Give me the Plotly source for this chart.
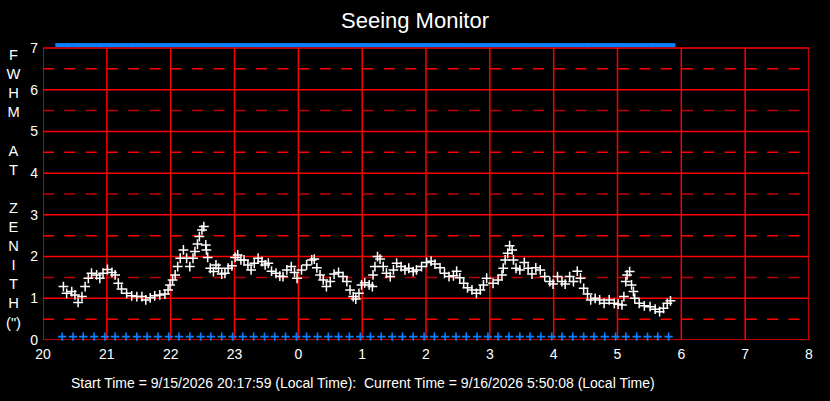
import plotly.graph_objects as go

# seeing samples: decimal hours (past midnight continues as 24+), FWHM in arcsec
hours = [
    20.32, 20.37, 20.45, 20.50, 20.55, 20.61, 20.66, 20.71, 20.76, 20.84, 20.89, 20.94,
    21.01, 21.08, 21.13, 21.18, 21.23, 21.31, 21.39, 21.47, 21.55, 21.61, 21.68, 21.75,
    21.83, 21.91, 21.96, 21.99, 22.03, 22.07, 22.11, 22.15, 22.20, 22.25, 22.30, 22.35,
    22.38, 22.42, 22.45, 22.49, 22.52, 22.55, 22.56, 22.58, 22.62, 22.67, 22.71, 22.75,
    22.80, 22.85, 22.90, 22.96, 23.01, 23.05, 23.10, 23.15, 23.21, 23.26, 23.31, 23.37,
    23.43, 23.48, 23.53, 23.58, 23.65, 23.71, 23.76, 23.82, 23.89, 23.94, 23.98, 24.05,
    24.13, 24.21, 24.25, 24.29, 24.34, 24.39, 24.44, 24.50, 24.56, 24.63, 24.70, 24.76,
    24.81, 24.86, 24.90, 24.95, 24.99, 25.04, 25.11, 25.16, 25.17, 25.20, 25.24, 25.28,
    25.33, 25.38, 25.44, 25.49, 25.54, 25.61, 25.67, 25.73, 25.80, 25.85, 25.93, 26.01,
    26.08, 26.14, 26.22, 26.29, 26.36, 26.43, 26.48, 26.53, 26.59, 26.65, 26.72, 26.79,
    26.85, 26.90, 26.95, 27.05, 27.13, 27.19, 27.21, 27.24, 27.28, 27.31, 27.35, 27.37,
    27.41, 27.47, 27.54, 27.60, 27.66, 27.72, 27.79, 27.86, 27.94, 27.99, 28.06, 28.13,
    28.18, 28.25, 28.31, 28.37, 28.42, 28.47, 28.53, 28.58, 28.65, 28.72, 28.79, 28.87,
    28.95, 29.01, 29.07, 29.10, 29.13, 29.15, 29.19, 29.22, 29.25, 29.27, 29.34, 29.42,
    29.51, 29.59, 29.66, 29.72, 29.78, 29.83,
]
fwhm = [
    1.28, 1.12, 1.16, 1.08, 0.90, 1.04, 1.28, 1.48, 1.60, 1.56, 1.48, 1.60,
    1.69, 1.62, 1.56, 1.36, 1.22, 1.12, 1.06, 1.04, 1.04, 0.96, 1.01, 1.06,
    1.08, 1.10, 1.20, 1.32, 1.44, 1.56, 1.76, 1.96, 2.16, 1.96, 1.76, 1.96,
    2.12, 2.30, 2.48, 2.64, 2.72, 2.28, 2.16, 1.98, 1.72, 1.64, 1.80, 1.72,
    1.58, 1.60, 1.72, 1.78, 1.98, 2.04, 1.92, 1.92, 1.80, 1.68, 1.84, 1.96,
    1.88, 1.80, 1.84, 1.65, 1.60, 1.53, 1.52, 1.68, 1.76, 1.62, 1.48, 1.68,
    1.80, 1.92, 1.94, 1.73, 1.56, 1.44, 1.28, 1.40, 1.58, 1.62, 1.52, 1.40,
    1.20, 1.04, 0.98, 1.12, 1.32, 1.37, 1.32, 1.28, 1.56, 1.76, 2.00, 1.94,
    1.76, 1.60, 1.52, 1.68, 1.84, 1.76, 1.68, 1.72, 1.64, 1.68, 1.76, 1.86,
    1.89, 1.82, 1.73, 1.60, 1.52, 1.54, 1.65, 1.49, 1.36, 1.25, 1.20, 1.12,
    1.20, 1.32, 1.48, 1.36, 1.44, 1.56, 1.72, 1.92, 2.08, 2.26, 2.16, 1.92,
    1.72, 1.68, 1.86, 1.72, 1.58, 1.73, 1.68, 1.52, 1.40, 1.34, 1.52, 1.40,
    1.34, 1.52, 1.40, 1.65, 1.48, 1.24, 1.10, 0.96, 1.00, 0.96, 0.88, 0.96,
    0.88, 0.86, 0.84, 1.04, 1.40, 1.56, 1.64, 1.32, 1.16, 1.00, 0.88, 0.82,
    0.80, 0.74, 0.68, 0.76, 0.88, 0.94,
]

# 10-minute status marks (blue), drawn at the bottom and just above the top of the grid
status_hours = [
    20.30, 20.47, 20.63, 20.80, 20.97, 21.13, 21.30, 21.47, 21.63, 21.80, 21.97, 22.13,
    22.30, 22.47, 22.63, 22.80, 22.97, 23.13, 23.30, 23.47, 23.63, 23.80, 23.97, 24.13,
    24.30, 24.47, 24.63, 24.80, 24.97, 25.13, 25.30, 25.47, 25.63, 25.80, 25.97, 26.13,
    26.30, 26.47, 26.63, 26.80, 26.97, 27.13, 27.30, 27.47, 27.63, 27.80, 27.97, 28.13,
    28.30, 28.47, 28.63, 28.80, 28.97, 29.13, 29.30, 29.47, 29.63, 29.80,
]
status_low = 0.08
status_high = 7.07

tick_hours = list(range(20, 33))
tick_labels = ["20", "21", "22", "23", "0", "1", "2", "3", "4", "5", "6", "7", "8"]
levels = [0, 1, 2, 3, 4, 5, 6, 7]

half_levels = [0.5, 1.5, 2.5, 3.5, 4.5, 5.5, 6.5]
half_colors = ["#ff0000", "#c00000", "#ff0000", "#c00000", "#ff0000", "#c00000", "#ff0000"]

ylabel = ["F", "W", "H", "M", "", "A", "T", "", "Z", "E", "N", "I", "T", "H", "(\")"]
footer = ("Start Time = 9/15/2026 20:17:59 (Local Time):  "
          "Current Time = 9/16/2026 5:50:08 (Local Time)")

blue = "#0a80ff"
red = "#ff0000"
font = "Liberation Sans, Arial, sans-serif"

fig = go.Figure()

# top bar: wide flat marks sitting above the grid frame
fig.add_trace(go.Scatter(
    x=status_hours, y=[status_high] * len(status_hours),
    mode="markers",
    marker=dict(symbol="line-ew", size=9.8, line=dict(color=blue, width=4)),
    hoverinfo="skip",
))

fig.add_trace(go.Scatter(
    x=status_hours, y=[status_low] * len(status_hours),
    mode="markers", cliponaxis=False,
    marker=dict(symbol="cross-thin", size=6, line=dict(color=blue, width=1.6)),
    hoverinfo="skip",
))

fig.add_trace(go.Scatter(
    x=hours, y=fwhm,
    mode="markers",
    marker=dict(symbol="cross-thin", size=7, line=dict(color="white", width=1.5)),
))

# grid frame drawn by hand so it stops at 7 while the top bar sits above it
for h in tick_hours:
    fig.add_shape(type="line", xref="x", yref="y", x0=h, x1=h, y0=0, y1=7,
                  line=dict(color=red, width=1.5), layer="below")
for lvl in levels:
    fig.add_shape(type="line", xref="x", yref="y", x0=20, x1=32, y0=lvl, y1=lvl,
                  line=dict(color=red, width=1.5), layer="below")
for lvl, col in zip(half_levels, half_colors):
    fig.add_shape(type="line", xref="x", yref="y", x0=20, x1=32, y0=lvl, y1=lvl,
                  line=dict(color=col, width=1.5, dash="11px,10.3px"), layer="below")

fig.add_annotation(
    text="<br>".join(ylabel), xref="paper", yref="paper",
    x=-0.039, y=0.51, xanchor="center", yanchor="middle", showarrow=False,
    font=dict(family=font, size=14.7, color="white"), align="center",
)
fig.add_annotation(
    text=footer, xref="paper", yref="paper", x=0.418, y=-0.11,
    xanchor="center", yanchor="top", showarrow=False,
    font=dict(family=font, size=14, color="white"),
)

fig.update_layout(
    width=830, height=401,
    paper_bgcolor="black", plot_bgcolor="black",
    margin=dict(l=43, r=21, t=43, b=61),
    showlegend=False,
    title=dict(text="Seeing Monitor", x=0.5, xanchor="center", y=0.95, yanchor="middle",
               font=dict(family=font, size=22, color="white")),
    font=dict(family=font, color="white", size=14),
)
fig.update_xaxes(
    range=[20, 32], tickvals=tick_hours, ticktext=tick_labels,
    showgrid=False, showline=False, zeroline=False, ticks="", ticklabelstandoff=4,
    tickfont=dict(family=font, size=14, color="white"),
)
fig.update_yaxes(
    range=[0, 7.12], tickvals=levels,
    showgrid=False, showline=False, zeroline=False, ticks="", ticklabelstandoff=4,
    tickfont=dict(family=font, size=14, color="white"),
)

fig.write_html("out.html", config={"displayModeBar": False},
               post_script="document.body.style.margin='0';")
